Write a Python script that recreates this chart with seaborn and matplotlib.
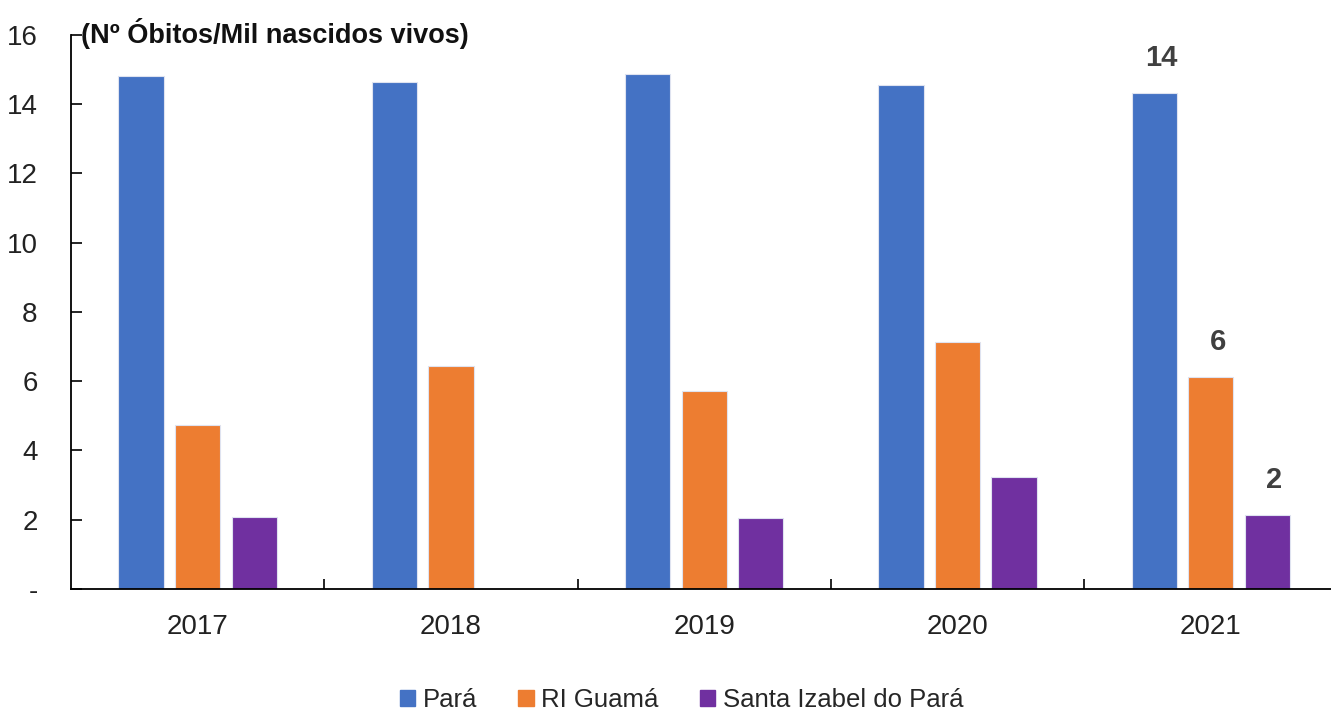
import matplotlib
matplotlib.use("Agg")
import matplotlib.pyplot as plt
import seaborn as sns
import pandas as pd
import numpy as np

years = ["2017", "2018", "2019", "2020", "2021"]
series = ["Pará", "RI Guamá", "Santa Izabel do Pará"]
para = [14.82, 14.65, 14.88, 14.54, 14.33]
guama = [4.74, 6.44, 5.72, 7.14, 6.13]
santa = [2.08, np.nan, 2.05, 3.24, 2.14]
colors = ["#4472C4", "#ED7D31", "#7030A0"]
yticks = [0, 2, 4, 6, 8, 10, 12, 14, 16]
ytick_labels = ["-", "2", "4", "6", "8", "10", "12", "14", "16"]
title = "(Nº Óbitos/Mil nascidos vivos)"

sns.set_theme(style="white")
fam = ["Liberation Sans", "DejaVu Sans"]
plt.rcParams["font.family"] = fam

df = pd.DataFrame({
    "Ano": years * 3,
    "Série": [series[0]] * 5 + [series[1]] * 5 + [series[2]] * 5,
    "Valor": para + guama + santa,
})

fig = plt.figure(figsize=(13.31, 7.13), dpi=100)
ax = fig.add_axes([0.0533, 0.174, 0.9515, 0.777])
sns.barplot(data=df, x="Ano", y="Valor", hue="Série", palette=colors,
            saturation=1, width=0.67, gap=0.2, ax=ax, edgecolor="#dfe3f0",
            linewidth=0.8, legend=False)

ax.set_xlim(-0.5, 4.5)
ax.set_ylim(0, 16)
ax.set_yticks(yticks)
ax.set_yticklabels(ytick_labels)
ax.set_xlabel("")
ax.set_ylabel("")
for s in ["top", "right"]:
    ax.spines[s].set_visible(False)
for s in ["left", "bottom"]:
    ax.spines[s].set_color("black")
    ax.spines[s].set_linewidth(1.3)

ax.tick_params(axis="y", direction="in", length=8, width=1.2, color="black",
               pad=24, labelsize=20, labelcolor="#222222", left=True)
ax.tick_params(axis="x", which="major", length=0, pad=18, labelsize=20,
               labelcolor="#222222")
ax.set_xticks(np.arange(0.5, 4.5, 1.0), minor=True)
ax.tick_params(axis="x", which="minor", direction="in", length=7, width=1.2,
               color="black", bottom=True)

ax.text(0.008, 1.003, title, transform=ax.transAxes, fontsize=19.5,
        fontweight="bold", color="#111111", ha="left", va="center")

# labels on last year's bars
for cont in ax.containers:
    p = cont.patches[-1]
    h = p.get_height()
    ax.annotate(f"{h:.0f}", (p.get_x() + p.get_width() / 2, h),
                xytext=(5, 15), textcoords="offset points", ha="center",
                va="bottom", fontsize=21, fontweight="bold", color="#404040")

handles = [plt.Rectangle((0, 0), 1, 1, color=c) for c in colors]
fig.legend(handles, series, loc="center", bbox_to_anchor=(0.512, 0.018),
           ncol=3, frameon=False, fontsize=18.5, handlelength=0.6,
           handleheight=0.6, handletextpad=0.3, columnspacing=1.6)

fig.savefig("out.png", dpi=100)
